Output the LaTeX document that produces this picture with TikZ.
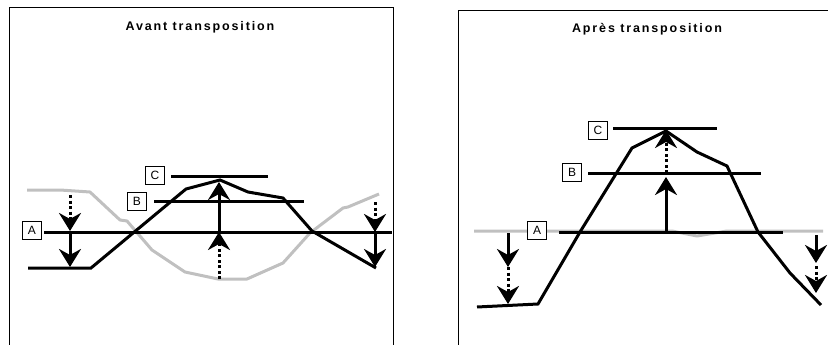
\documentclass[tikz,border=0pt]{standalone}
\usepackage{fontspec}
\setmainfont{Liberation Sans}
\usetikzlibrary{arrows.meta}
\definecolor{profgray}{RGB}{192,192,192}
\tikzset{
  frame/.style={line width=1pt, draw=black},
  level/.style={line width=3pt, draw=black},
  profile/.style={line width=3pt, draw=black, line join=miter},
  oldprofile/.style={line width=3pt, draw=profgray, line join=round},
  solidarrow/.style={line width=3pt, -{Stealth[length=18pt,width=22pt,inset=6pt]}},
  dasharrow/.style={line width=3pt, dash pattern=on 3pt off 2.5pt, -{Stealth[length=18pt,width=22pt,inset=6pt]}},
  lbl/.style={draw=black, line width=0.8pt, fill=white, minimum width=19pt, minimum height=18pt, inner sep=0pt, font=\fontsize{12}{14}\selectfont},
  ttl/.style={font=\fontsize{12.5}{15}\selectfont\bfseries\addfontfeature{LetterSpace=15}}
}
\begin{document}
\begin{tikzpicture}[x=1pt,y=-1pt]
\useasboundingbox (0,0) rectangle (828,345);
% frames
\coordinate (lf1) at (9,345); \coordinate (lf2) at (9,8); \coordinate (lf3) at (393,8); \coordinate (lf4) at (393,345);
\draw[frame] (lf1) -- (lf2) -- (lf3) -- (lf4);
\coordinate (rf1) at (458,345); \coordinate (rf2) at (458,11); \coordinate (rf3) at (828,11);
\draw[frame] (rf1) -- (rf2) -- (rf3);
% titles
\node[ttl] (t1) at (200,27) {Avant transposition};
\node[ttl] (t2) at (647,29) {Après transposition};

% ---------- left panel ----------
\draw[oldprofile] (27,190) -- (60,190) -- (90,192) -- (120,220) -- (127,221) -- (152,250) -- (185,272) -- (218,279) -- (247,279) -- (283,263) -- (310,233) -- (343,208) -- (348,207) -- (379,194);
\coordinate (la1) at (44,232); \coordinate (la2) at (392,232);
\coordinate (lb1) at (154,201); \coordinate (lb2) at (304,201);
\coordinate (lc1) at (171,176); \coordinate (lc2) at (268,176);
\draw[level] (la1) -- (la2);
\draw[level] (lb1) -- (lb2);
\draw[level] (lc1) -- (lc2);
\coordinate (lp0) at (28,268);
\coordinate (lp1) at (91,268);
\coordinate (lp2) at (186,189);
\coordinate (lp3) at (220,180);
\coordinate (lp4) at (248,192);
\coordinate (lp5) at (283,198);
\coordinate (lp6) at (312,231);
\coordinate (lp7) at (376,268);
\draw[profile] (lp0) -- (lp1) -- (lp2) -- (lp3) -- (lp4) -- (lp5) -- (lp6) -- (lp7);
\node[lbl] (lA) at (32,230) {A};
\node[lbl] (lB) at (137,201) {B};
\node[lbl] (lC) at (155,175) {C};
% arrows left panel
\coordinate (l1s) at (70,195); \coordinate (l1m) at (70,231); \coordinate (l1e) at (70,267);
\draw[dasharrow] (l1s) -- (l1m);
\draw[solidarrow] (l1m) -- (l1e);
\coordinate (l2s) at (219,279); \coordinate (l2m) at (219,232); \coordinate (l2e) at (219,182);
\draw[dasharrow] (l2s) -- (l2m);
\draw[solidarrow] (l2m) -- (l2e);
\coordinate (l3s) at (375,202); \coordinate (l3m) at (375,232); \coordinate (l3e) at (375,267);
\draw[dasharrow] (l3s) -- (l3m);
\draw[solidarrow] (l3m) -- (l3e);

% ---------- right panel ----------
\draw[oldprofile] (474,231) -- (672,231) -- (697,236) -- (727,231) -- (823,231);
\coordinate (ra1) at (559,232); \coordinate (ra2) at (783,232);
\coordinate (rb1) at (588,173); \coordinate (rb2) at (761,173);
\coordinate (rc1) at (613,128); \coordinate (rc2) at (717,128);
\draw[level] (ra1) -- (ra2);
\draw[level] (rb1) -- (rb2);
\draw[level] (rc1) -- (rc2);
\coordinate (rp0) at (477,307);
\coordinate (rp1) at (538,304);
\coordinate (rp2) at (580,232);
\coordinate (rp3) at (632,148);
\coordinate (rp4) at (666,131);
\coordinate (rp5) at (697,152);
\coordinate (rp6) at (727,166);
\coordinate (rp7) at (758,232);
\coordinate (rp8) at (790,273);
\coordinate (rp9) at (821,305);
\draw[profile] (rp0) -- (rp1) -- (rp2) -- (rp3) -- (rp4) -- (rp5) -- (rp6) -- (rp7) -- (rp8) -- (rp9);
\node[lbl] (rA) at (537,230) {A};
\node[lbl] (rB) at (572,172) {B};
\node[lbl] (rC) at (598,130) {C};
% arrows right panel
\coordinate (r1s) at (508,233); \coordinate (r1m) at (508,267); \coordinate (r1e) at (508,304);
\draw[solidarrow] (r1s) -- (r1m);
\draw[dasharrow] (r1m) -- (r1e);
\coordinate (r2s) at (666,231); \coordinate (r2m) at (666,177); \coordinate (r2n) at (666,173); \coordinate (r2e) at (666,130);
\draw[solidarrow] (r2s) -- (r2m);
\draw[dasharrow] (r2n) -- (r2e);
\coordinate (r3s) at (816,235); \coordinate (r3m) at (816,263); \coordinate (r3n) at (816,266); \coordinate (r3e) at (816,293);
\draw[solidarrow] (r3s) -- (r3m);
\draw[dasharrow] (r3n) -- (r3e);
\end{tikzpicture}
\end{document}
